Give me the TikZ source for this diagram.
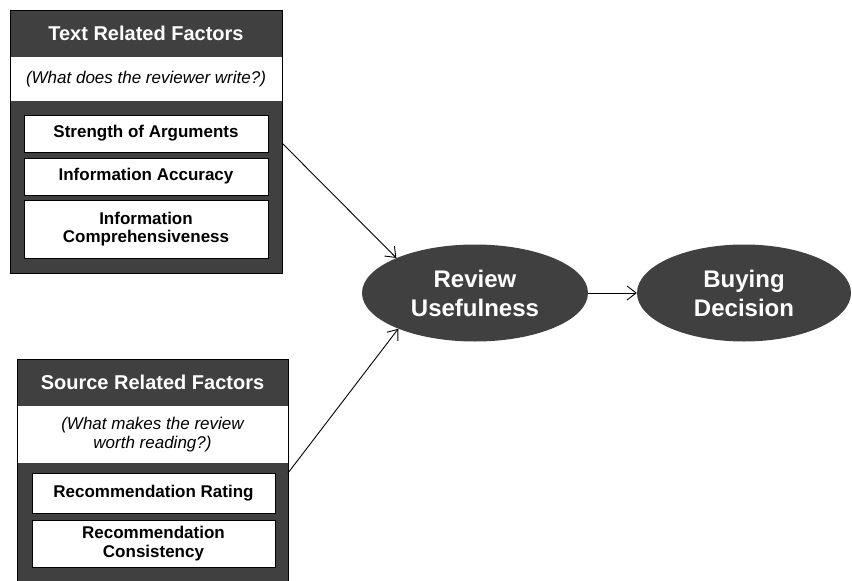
\documentclass[tikz,border=0pt]{standalone}
\usepackage{fontspec}
\setmainfont{Liberation Sans}
\usetikzlibrary{shapes.geometric,arrows.meta}
\definecolor{panel}{HTML}{404040}
\tikzset{
  panelbox/.style={draw=black, line width=0.9pt, fill=panel, inner sep=0pt},
  headbar/.style={fill=panel, inner sep=0pt, text=white,
    font=\bfseries\fontsize{20}{22}\selectfont},
  askband/.style={fill=white, inner sep=0pt, align=center,
    font=\itshape\fontsize{17}{19}\selectfont},
  factor/.style={draw=black, line width=0.9pt, fill=white, inner sep=0pt,
    align=center, font=\bfseries\fontsize{17}{18.5}\selectfont},
  outcome/.style={ellipse, fill=panel, inner sep=0pt, text=white, align=center,
    font=\bfseries\fontsize{24}{29}\selectfont},
  link/.style={line width=0.9pt, -{Straight Barb[length=9pt,width=14pt,line width=0.9pt]}}
}
\begin{document}
\begin{tikzpicture}[x=1pt,y=-1pt]
\clip (0,0) rectangle (852,581);
\fill[white] (0,0) rectangle (852,581);

% text related factors panel
\node[panelbox, minimum width=272pt, minimum height=263pt] (tbox) at (146,141.5) {};
\node[headbar, minimum width=271pt, minimum height=46pt] (thead) at (146,33.5) {Text Related Factors};
\node[askband, minimum width=271pt, minimum height=44pt] (task) at (146,79) {(What does the reviewer write?)};
\node[factor, minimum width=244pt, minimum height=37pt] (s1) at (146,133.5) {Strength of Arguments};
\node[factor, minimum width=244pt, minimum height=37pt] (s2) at (146,176.5) {Information Accuracy};
\node[factor, minimum width=244pt, minimum height=58pt] (s3) at (146,229) {Information\\Comprehensiveness};

% source related factors panel (runs past the lower edge)
\node[panelbox, minimum width=271pt, minimum height=260pt] (sbox) at (152.5,489) {};
\node[headbar, minimum width=270pt, minimum height=46pt] (shead) at (152.5,382.5) {Source Related Factors};
\node[askband, minimum width=270pt, minimum height=57pt] (sask) at (152.5,434.5) {(What makes the review\\worth reading?)};
\node[factor, minimum width=243pt, minimum height=40pt] (r1) at (153.5,493) {Recommendation Rating};
\node[factor, minimum width=243pt, minimum height=47pt] (r2) at (153.5,543.5) {Recommendation\\Consistency};

% outcomes
\node[outcome, minimum width=226pt, minimum height=97pt] (ru) at (475,293) {Review\\Usefulness};
\node[outcome, minimum width=214pt, minimum height=97pt] (bd) at (744,293) {Buying\\Decision};

% connectors
\coordinate (a1) at (282,143);
\coordinate (a2) at (288,473);
\draw[link] (a1) -- (ru.156);
\draw[link] (a2) -- (ru.205);
\draw[link] (ru) -- (bd);
\end{tikzpicture}
\end{document}
